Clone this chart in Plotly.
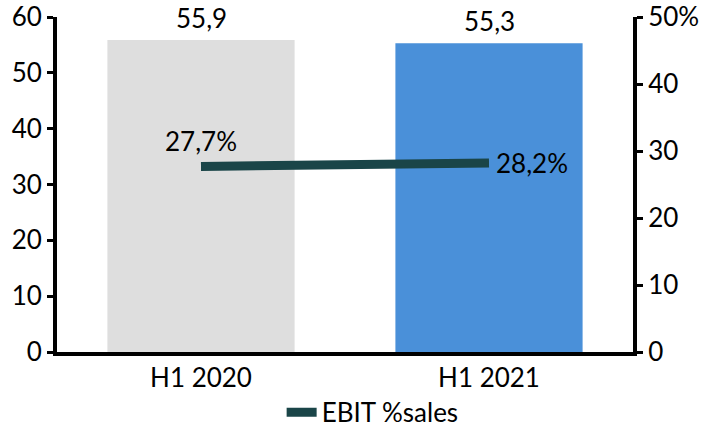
import plotly.graph_objects as go

categories = ["H1 2020", "H1 2021"]
ebit = [55.9, 55.3]
ebit_margin = [27.7, 28.2]
bar_colors = ["#dedede", "#4a90d9"]
right_ticks = [0, 10, 20, 30, 40, 50]
right_ticktext = ["0", "10", "20", "30", "40", "50%"]

FONT = "Lato, Open Sans, sans-serif"
FS = 26


def fmt(v):
    return f"{v:.1f}".replace(".", ",")


fig = go.Figure()
fig.add_trace(go.Bar(x=categories, y=ebit, marker=dict(color=bar_colors, line=dict(width=0)),
                     showlegend=False, hoverinfo="skip"))
fig.add_trace(go.Scatter(x=categories, y=ebit_margin, yaxis="y2", mode="lines",
                         line=dict(color="#1a4548", width=9), name="EBIT %sales"))

# value labels
for c, v in zip(categories, ebit):
    fig.add_annotation(x=c, y=v, text=fmt(v), showarrow=False, yanchor="bottom", yshift=4,
                       font=dict(size=FS, color="black", family=FONT))
fig.add_annotation(x=categories[0], y=ebit_margin[0], yref="y2", text=fmt(ebit_margin[0]) + "%",
                   showarrow=False, yanchor="bottom", yshift=7,
                   font=dict(size=FS, color="black", family=FONT))
fig.add_annotation(x=categories[1], y=ebit_margin[1], yref="y2", text=fmt(ebit_margin[1]) + "%",
                   showarrow=False, xanchor="left", xshift=5,
                   font=dict(size=FS, color="black", family=FONT))

fig.update_layout(
    width=702, height=430,
    margin=dict(l=57, r=69, t=17, b=78, autoexpand=False),
    paper_bgcolor="white", plot_bgcolor="white",
    font=dict(family=FONT, size=FS, color="black"),
    bargap=0.35,
    xaxis=dict(showline=True, linecolor="black", linewidth=4, ticks="", showgrid=False,
               automargin=False, tickfont=dict(size=FS)),
    yaxis=dict(range=[0, 60], dtick=10, showline=True, linecolor="black", linewidth=4,
               ticks="outside", ticklen=6, tickwidth=3, tickcolor="black", showgrid=False,
               zeroline=False, automargin=False, ticklabeloverflow="allow"),
    yaxis2=dict(range=[0, 50], overlaying="y", side="right", tickvals=right_ticks,
                ticktext=right_ticktext, showline=True, linecolor="black", linewidth=4,
                ticks="outside", ticklen=6, tickwidth=3, tickcolor="black", showgrid=False,
                zeroline=False, automargin=False, ticklabeloverflow="allow"),
    legend=dict(orientation="h", x=0.39, xanchor="left", y=-0.11, yanchor="top",
                font=dict(size=FS)),
)

fig.write_html("out.html", config={"displayModeBar": False},
               post_script="document.body.style.margin='0';")
